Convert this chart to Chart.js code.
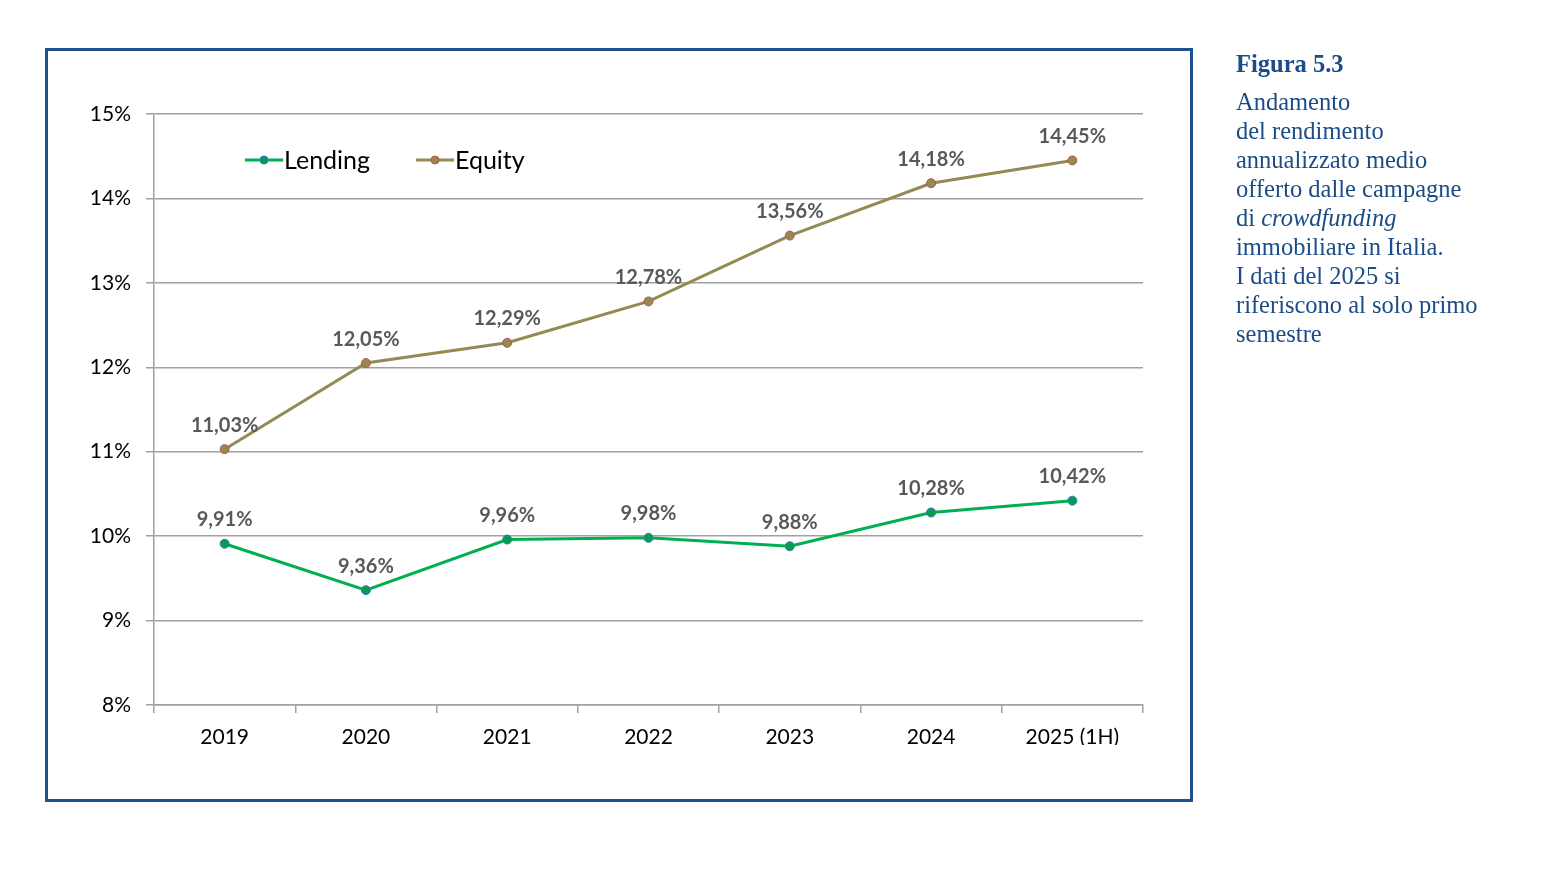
<!DOCTYPE html>
<html>
<head>
<meta charset="utf-8">
<script src="https://cdn.jsdelivr.net/npm/chart.js@4"></script>
<style>
  body { margin: 0; background: #fff; width: 1556px; height: 894px; overflow: hidden; position: relative; }
  #frame { position: absolute; left: 45px; top: 48px; width: 1142px; height: 748px; border: 3px solid #1f5190; }
  #chart { position: absolute; left: 0; top: 0; }
  #caption { position: absolute; left: 1236px; top: 49px; width: 320px; color: #1b4c85;
             font-family: "Liberation Serif", "DejaVu Serif", serif; font-size: 24.5px; line-height: 29px; }
  #caption .fig { font-weight: bold; margin-bottom: 9px; }
</style>
</head>
<body>
<div id="frame"></div>
<canvas id="chart" width="1556" height="894"></canvas>
<div id="caption">
  <div class="fig">Figura 5.3</div>
  <div>Andamento<br>del rendimento<br>annualizzato medio<br>offerto dalle campagne<br>di <i>crowdfunding</i><br>immobiliare in Italia.<br>I dati del 2025 si<br>riferiscono al solo primo<br>semestre</div>
</div>
<script>
const years = ['2019', '2020', '2021', '2022', '2023', '2024', '2025 (1H)'];
const lending = [9.91, 9.36, 9.96, 9.98, 9.88, 10.28, 10.42];
const equity = [11.03, 12.05, 12.29, 12.78, 13.56, 14.18, 14.45];
const yTicks = [8, 9, 10, 11, 12, 13, 14, 15];

const font = 'Lato, "Open Sans", sans-serif';
const gridGray = '#a0a0a0';

// value labels above each point
const valueLabels = {
    id: 'valueLabels',
    afterDatasetsDraw(chart) {
        const ctx = chart.ctx;
        ctx.save();
        ctx.font = 'bold 20px ' + font;
        ctx.fillStyle = '#595959';
        ctx.textAlign = 'center';
        ctx.textBaseline = 'middle';
        chart.data.datasets.forEach((ds, i) => {
            chart.getDatasetMeta(i).data.forEach((pt, j) => {
                const txt = ds.data[j].toFixed(2).replace('.', ',') + '%';
                ctx.fillText(txt, pt.x, pt.y - 24);
            });
        });
        ctx.restore();
    }
};

// legend inside the plot, top-left
const innerLegend = {
    id: 'innerLegend',
    afterDraw(chart) {
        const ctx = chart.ctx;
        const a = chart.chartArea;
        const y = a.top + 46;
        let x = a.left + 91;
        ctx.save();
        ctx.font = '25px ' + font;
        ctx.textBaseline = 'middle';
        chart.data.datasets.forEach((ds) => {
            ctx.strokeStyle = ds.borderColor;
            ctx.lineWidth = 3;
            ctx.beginPath();
            ctx.moveTo(x, y);
            ctx.lineTo(x + 38, y);
            ctx.stroke();
            ctx.beginPath();
            ctx.arc(x + 19, y, 4, 0, Math.PI * 2);
            ctx.fillStyle = ds.pointBackgroundColor;
            ctx.fill();
            ctx.lineWidth = 1;
            ctx.strokeStyle = ds.pointBorderColor;
            ctx.stroke();
            ctx.fillStyle = '#000';
            ctx.fillText(ds.label, x + 39, y + 1);
            x += 171;
        });
        ctx.restore();
    }
};

new Chart(document.getElementById('chart'), {
    type: 'line',
    data: {
        labels: years,
        datasets: [
            {
                label: 'Lending',
                data: lending,
                borderColor: '#00b050',
                borderWidth: 3,
                pointBackgroundColor: '#00a04a',
                pointBorderColor: '#4472c4',
                pointBorderWidth: 1,
                pointRadius: 4.5,
                tension: 0
            },
            {
                label: 'Equity',
                data: equity,
                borderColor: '#948a54',
                borderWidth: 3,
                pointBackgroundColor: '#948a54',
                pointBorderColor: '#c0504d',
                pointBorderWidth: 1,
                pointRadius: 4.5,
                tension: 0
            }
        ]
    },
    options: {
        responsive: false,
        animation: false,
        layout: { padding: { left: 0, top: 114, right: 413, bottom: 149 } },
        plugins: { legend: { display: false }, tooltip: { enabled: false } },
        scales: {
            x: {
                offset: true,
                afterFit: (s) => { s.height = 40; },
                grid: { offset: true, drawOnChartArea: false, color: gridGray, lineWidth: 1.5, tickLength: 8 },
                border: { color: gridGray, width: 1.5 },
                ticks: { color: '#000', font: { family: font, size: 21 }, padding: 12 }
            },
            y: {
                min: 8,
                max: 15,
                afterFit: (s) => { s.width = 154; },
                afterBuildTicks: (s) => { s.ticks = yTicks.map(v => ({ value: v })); },
                grid: { color: gridGray, lineWidth: 1.5, tickLength: 8 },
                border: { color: gridGray, width: 1.5 },
                ticks: {
                    color: '#000',
                    font: { family: font, size: 21 },
                    padding: 15,
                    callback: (v) => v + '%'
                }
            }
        }
    },
    plugins: [valueLabels, innerLegend]
});
</script>
</body>
</html>
